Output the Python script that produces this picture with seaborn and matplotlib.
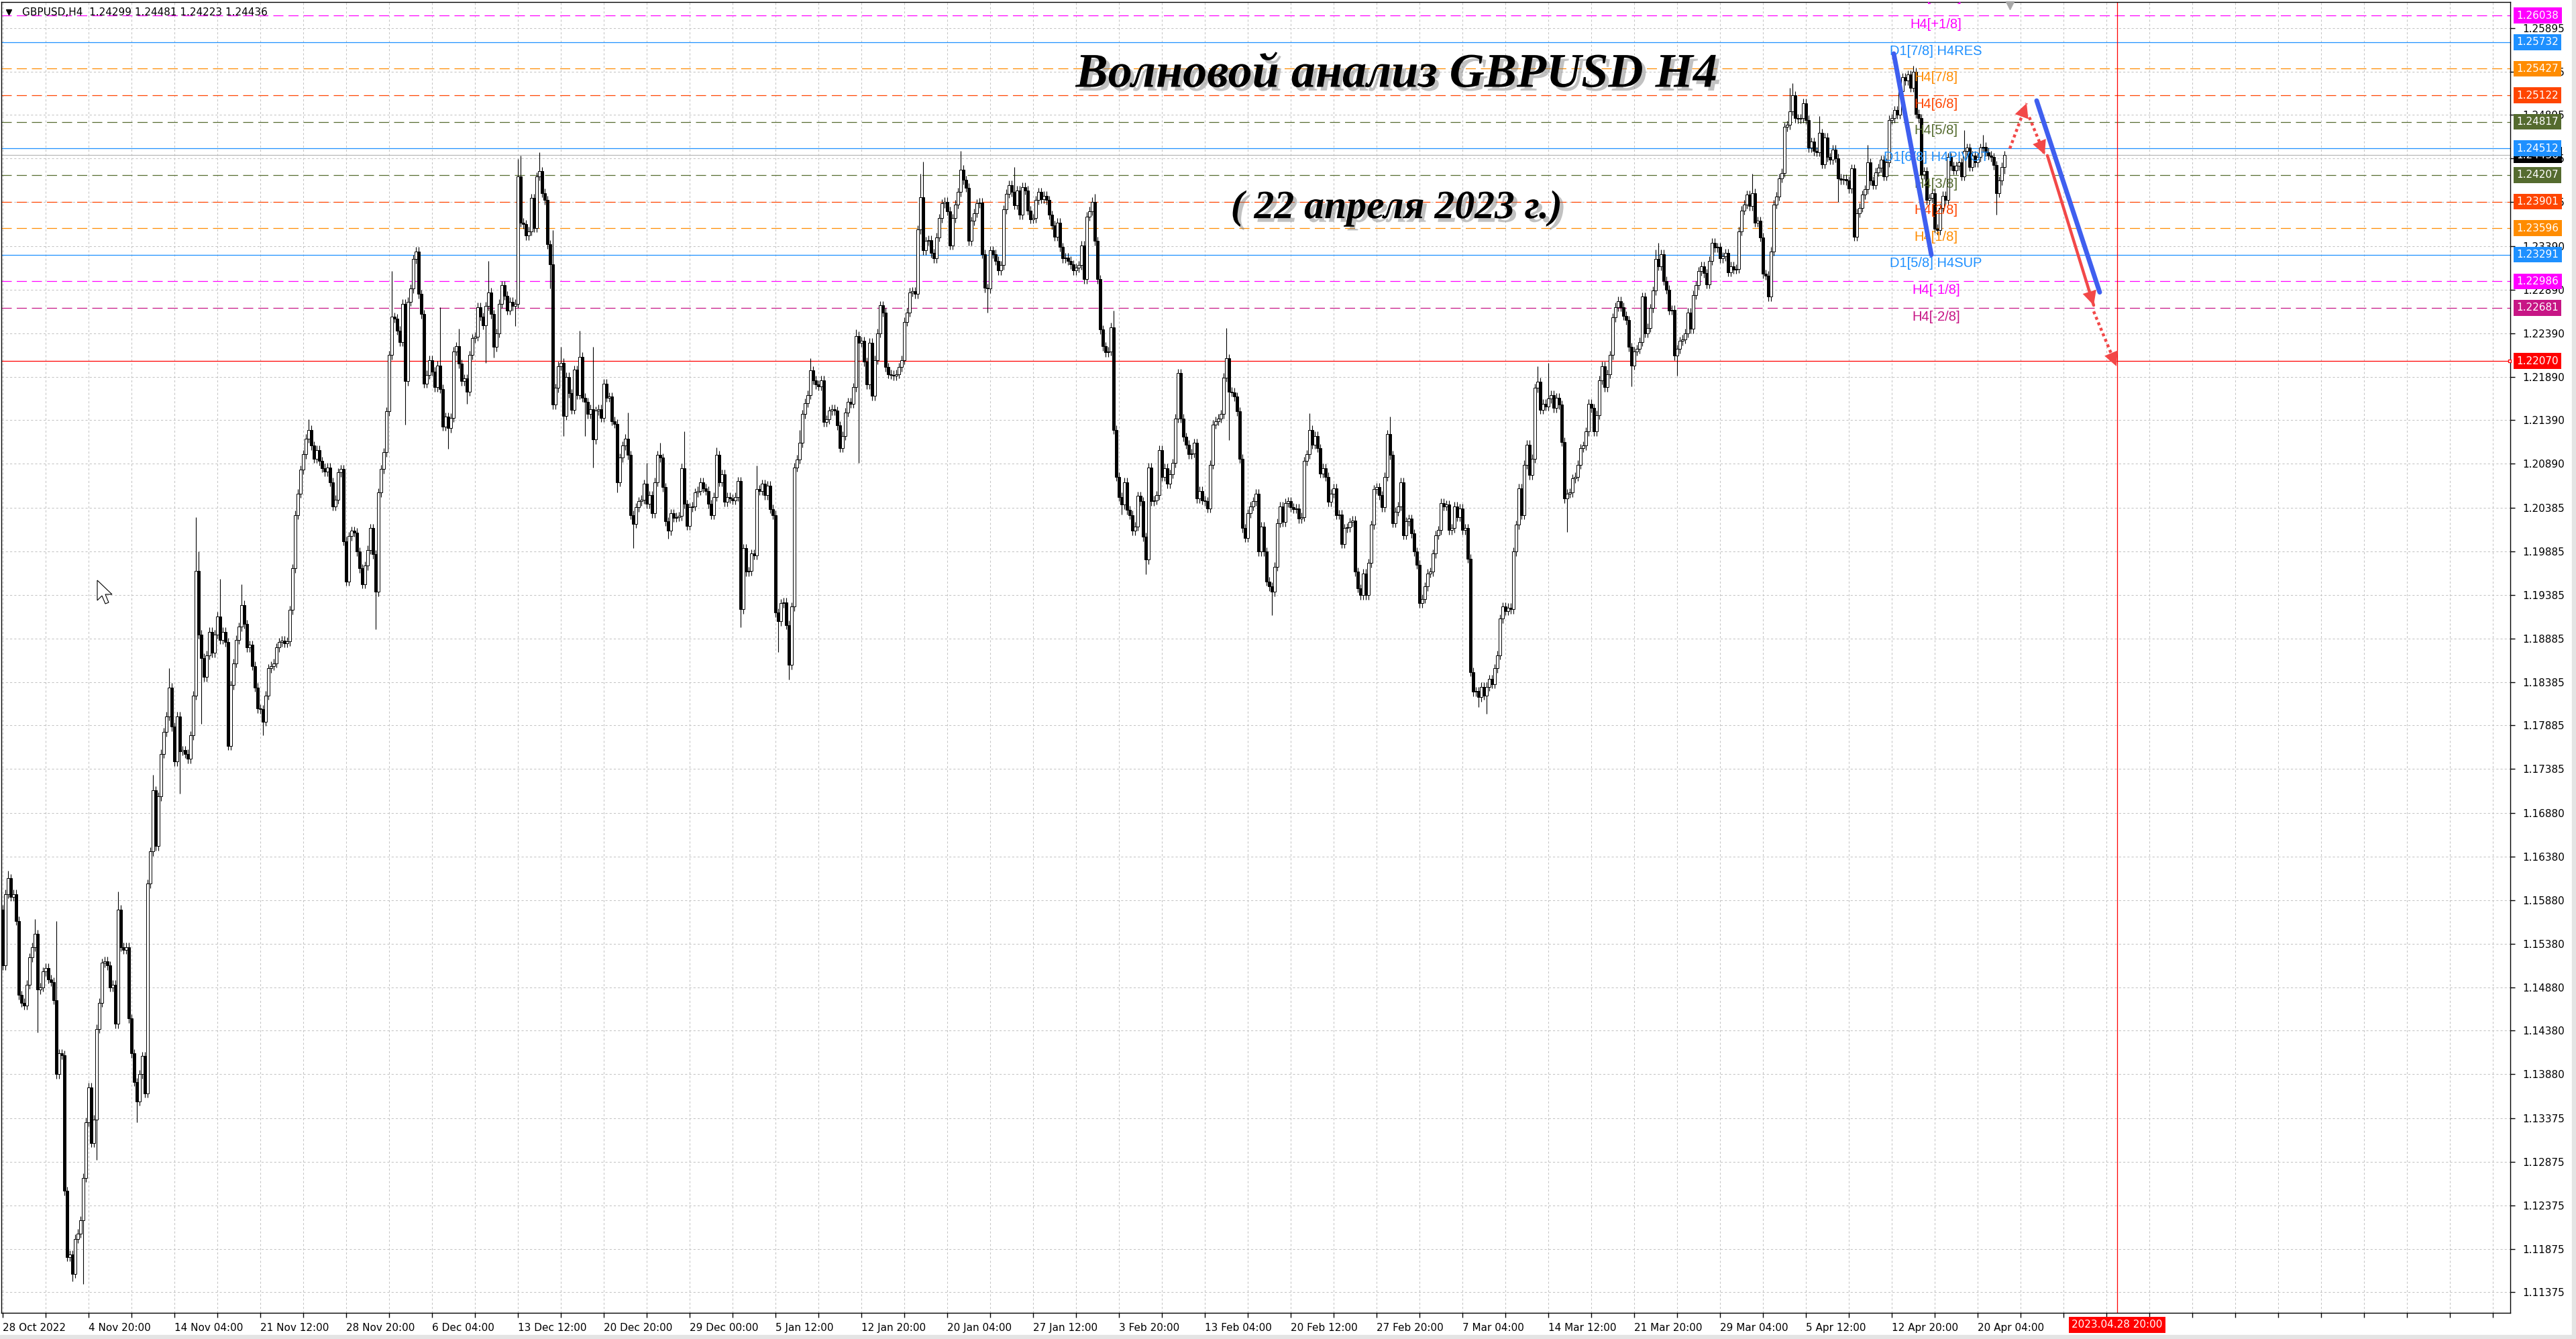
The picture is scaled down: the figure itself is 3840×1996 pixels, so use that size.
import numpy as np
import pandas as pd
import matplotlib
matplotlib.use("Agg")
import matplotlib.pyplot as plt
from matplotlib import patheffects as pe
from matplotlib.patches import Rectangle, Polygon
import seaborn as sns

# H4 closes, bar 0 = 28 Oct 2022 16:00, last = 21 Apr 2023 20:00
closes = [
    1.1513, 1.1595, 1.1613, 1.1592, 1.1595, 1.1564, 1.1479, 1.1470, 1.1467, 1.1491,
    1.1522, 1.1534, 1.1549, 1.1485, 1.1488, 1.1506, 1.1510, 1.1497, 1.1494, 1.1473,
    1.1388, 1.1412, 1.1410, 1.1254, 1.1178, 1.1181, 1.1159, 1.1199, 1.1205, 1.1220,
    1.1269, 1.1333, 1.1373, 1.1309, 1.1336, 1.1440, 1.1470, 1.1516, 1.1518, 1.1513,
    1.1488, 1.1491, 1.1446, 1.1577, 1.1534, 1.1531, 1.1534, 1.1452, 1.1412, 1.1379,
    1.1357, 1.1388, 1.1409, 1.1366, 1.1607, 1.1644, 1.1714, 1.1650, 1.1707, 1.1756,
    1.1781, 1.1799, 1.1832, 1.1787, 1.1747, 1.1799, 1.1759, 1.1760, 1.1756, 1.1750,
    1.1777, 1.1823, 1.1966, 1.1893, 1.1866, 1.1844, 1.1869, 1.1896, 1.1872, 1.1893,
    1.1914, 1.1887, 1.1896, 1.1884, 1.1765, 1.1835, 1.1860, 1.1887, 1.1902, 1.1927,
    1.1905, 1.1878, 1.1881, 1.1857, 1.1832, 1.1808, 1.1807, 1.1793, 1.1823, 1.1854,
    1.1857, 1.1860, 1.1878, 1.1884, 1.1886, 1.1883, 1.1885, 1.1921, 1.1969, 1.2030,
    1.2055, 1.2082, 1.2100, 1.2118, 1.2128, 1.2110, 1.2095, 1.2105, 1.2092, 1.2084,
    1.2080, 1.2085, 1.2068, 1.2040, 1.2048, 1.2079, 1.2083, 1.2000, 1.1954, 1.2006,
    1.2012, 1.2010, 1.1988, 1.1969, 1.1951, 1.1972, 1.1990, 1.2015, 1.1985, 1.1942,
    1.2056, 1.2083, 1.2102, 1.2149, 1.2214, 1.2258, 1.2256, 1.2242, 1.2229, 1.2273,
    1.2184, 1.2275, 1.2290, 1.2324, 1.2333, 1.2284, 1.2261, 1.2181, 1.2191, 1.2208,
    1.2195, 1.2177, 1.2202, 1.2175, 1.2132, 1.2143, 1.2130, 1.2142, 1.2218, 1.2224,
    1.2204, 1.2184, 1.2187, 1.2172, 1.2214, 1.2233, 1.2235, 1.2269, 1.2258, 1.2248,
    1.2270, 1.2286, 1.2261, 1.2223, 1.2239, 1.2273, 1.2294, 1.2282, 1.2265, 1.2275,
    1.2270, 1.2273, 1.2419, 1.2366, 1.2364, 1.2351, 1.2356, 1.2394, 1.2360, 1.2419,
    1.2425, 1.2400, 1.2392, 1.2341, 1.2318, 1.2157, 1.2176, 1.2201, 1.2205, 1.2144,
    1.2189, 1.2170, 1.2151, 1.2197, 1.2168, 1.2212, 1.2165, 1.2160, 1.2146, 1.2152,
    1.2117, 1.2150, 1.2152, 1.2142, 1.2181, 1.2165, 1.2166, 1.2138, 1.2135, 1.2068,
    1.2096, 1.2110, 1.2118, 1.2099, 1.2030, 1.2020, 1.2039, 1.2046, 1.2048, 1.2066,
    1.2043, 1.2053, 1.2032, 1.2068, 1.2099, 1.2096, 1.2062, 1.2023, 1.2012, 1.2032,
    1.2027, 1.2028, 1.2029, 1.2084, 1.2043, 1.2018, 1.2039, 1.2040, 1.2056, 1.2058,
    1.2068, 1.2061, 1.2058, 1.2043, 1.2030, 1.2051, 1.2099, 1.2068, 1.2077, 1.2045,
    1.2051, 1.2049, 1.2047, 1.2051, 1.2069, 1.1922, 1.1992, 1.1965, 1.1966, 1.1986,
    1.1984, 1.2060, 1.2058, 1.2066, 1.2053, 1.2064, 1.2037, 1.2030, 1.1918, 1.1908,
    1.1929, 1.1930, 1.1904, 1.1858, 1.1925, 1.2085, 1.2094, 1.2113, 1.2146, 1.2159,
    1.2168, 1.2196, 1.2185, 1.2180, 1.2178, 1.2185, 1.2137, 1.2140, 1.2150, 1.2152,
    1.2150, 1.2133, 1.2107, 1.2121, 1.2148, 1.2160, 1.2158, 1.2177, 1.2236, 1.2228,
    1.2230, 1.2206, 1.2180, 1.2228, 1.2167, 1.2208, 1.2239, 1.2271, 1.2263, 1.2200,
    1.2192, 1.2191, 1.2190, 1.2192, 1.2200, 1.2208, 1.2252, 1.2263, 1.2286, 1.2287,
    1.2284, 1.2358, 1.2395, 1.2334, 1.2345, 1.2346, 1.2331, 1.2325, 1.2349, 1.2371,
    1.2388, 1.2390, 1.2379, 1.2340, 1.2371, 1.2387, 1.2401, 1.2427, 1.2415, 1.2406,
    1.2345, 1.2368, 1.2377, 1.2388, 1.2389, 1.2330, 1.2291, 1.2290, 1.2334, 1.2330,
    1.2322, 1.2311, 1.2317, 1.2381, 1.2399, 1.2409, 1.2401, 1.2386, 1.2403, 1.2375,
    1.2407, 1.2403, 1.2380, 1.2370, 1.2371, 1.2392, 1.2401, 1.2393, 1.2397, 1.2392,
    1.2375, 1.2363, 1.2350, 1.2366, 1.2338, 1.2325, 1.2326, 1.2322, 1.2318, 1.2311,
    1.2314, 1.2317, 1.2340, 1.2301, 1.2373, 1.2379, 1.2390, 1.2345, 1.2301, 1.2243,
    1.2224, 1.2217, 1.2218, 1.2246, 1.2128, 1.2074, 1.2051, 1.2042, 1.2068, 1.2036,
    1.2030, 1.2012, 1.2017, 1.2052, 1.2046, 1.2005, 1.1979, 1.2085, 1.2046, 1.2047,
    1.2053, 1.2105, 1.2074, 1.2084, 1.2066, 1.2077, 1.2090, 1.2141, 1.2193, 1.2141,
    1.2120, 1.2111, 1.2100, 1.2101, 1.2113, 1.2049, 1.2058, 1.2047, 1.2046, 1.2038,
    1.2088, 1.2134, 1.2138, 1.2141, 1.2146, 1.2188, 1.2210, 1.2172, 1.2171, 1.2166,
    1.2149, 1.2095, 1.2015, 1.2004, 1.2032, 1.2040, 1.2046, 1.2055, 1.1988, 1.2017,
    1.1988, 1.1954, 1.1948, 1.1942, 1.1971, 1.2021, 1.2040, 1.2022, 1.2044, 1.2046,
    1.2039, 1.2037, 1.2038, 1.2026, 1.2028, 1.2092, 1.2100, 1.2128, 1.2111, 1.2121,
    1.2107, 1.2078, 1.2084, 1.2074, 1.2045, 1.2055, 1.2061, 1.2030, 1.2031, 1.1997,
    1.2015, 1.2016, 1.2022, 1.2024, 1.1965, 1.1946, 1.1938, 1.1963, 1.1938, 1.1975,
    1.2019, 1.2060, 1.2062, 1.2053, 1.2039, 1.2074, 1.2123, 1.2099, 1.2021, 1.2034,
    1.2040, 1.2068, 1.2007, 1.2023, 1.2026, 1.2009, 1.1988, 1.1973, 1.1929, 1.1934,
    1.1948, 1.1963, 1.1965, 1.1986, 1.2007, 1.2013, 1.2044, 1.2040, 1.2042, 1.2013,
    1.2015, 1.2040, 1.2028, 1.2038, 1.2013, 1.2015, 1.1980, 1.1850, 1.1827, 1.1828,
    1.1821, 1.1833, 1.1823, 1.1833, 1.1842, 1.1836, 1.1854, 1.1869, 1.1911, 1.1925,
    1.1920, 1.1924, 1.1922, 1.1988, 1.2019, 1.2061, 1.2030, 1.2088, 1.2111, 1.2076,
    1.2095, 1.2176, 1.2183, 1.2151, 1.2158, 1.2155, 1.2164, 1.2168, 1.2153, 1.2165,
    1.2157, 1.2114, 1.2049, 1.2055, 1.2056, 1.2072, 1.2074, 1.2088, 1.2107, 1.2110,
    1.2126, 1.2158, 1.2153, 1.2126, 1.2145, 1.2185, 1.2201, 1.2177, 1.2192, 1.2214,
    1.2257, 1.2269, 1.2276, 1.2269, 1.2259, 1.2254, 1.2223, 1.2202, 1.2218, 1.2221,
    1.2229, 1.2281, 1.2239, 1.2245, 1.2268, 1.2288, 1.2324, 1.2316, 1.2330, 1.2299,
    1.2289, 1.2265, 1.2266, 1.2213, 1.2221, 1.2230, 1.2232, 1.2239, 1.2263, 1.2244,
    1.2283, 1.2294, 1.2310, 1.2316, 1.2308, 1.2295, 1.2322, 1.2343, 1.2337, 1.2338,
    1.2325, 1.2327, 1.2331, 1.2309, 1.2316, 1.2312, 1.2313, 1.2356, 1.2380, 1.2387,
    1.2398, 1.2385, 1.2400, 1.2366, 1.2368, 1.2349, 1.2307, 1.2305, 1.2281, 1.2333,
    1.2387, 1.2396, 1.2417, 1.2423, 1.2476, 1.2478, 1.2494, 1.2512, 1.2486, 1.2485,
    1.2486, 1.2503, 1.2484, 1.2452, 1.2459, 1.2448, 1.2447, 1.2469, 1.2433, 1.2464,
    1.2441, 1.2438, 1.2450, 1.2440, 1.2417, 1.2415, 1.2416, 1.2414, 1.2405, 1.2428,
    1.2350, 1.2377, 1.2383, 1.2398, 1.2404, 1.2435, 1.2414, 1.2409, 1.2424, 1.2429,
    1.2438, 1.2419, 1.2435, 1.2484, 1.2486, 1.2495, 1.2490, 1.2517, 1.2533, 1.2529,
    1.2536, 1.2521, 1.2539, 1.2491, 1.2486, 1.2421, 1.2425, 1.2392, 1.2394, 1.2400,
    1.2359, 1.2357, 1.2383, 1.2397, 1.2392, 1.2441, 1.2431, 1.2426, 1.2431, 1.2435,
    1.2419, 1.2448, 1.2452, 1.2430, 1.2443, 1.2435, 1.2441, 1.2452, 1.2453, 1.2447,
    1.2443, 1.2441, 1.2432, 1.2400, 1.2414, 1.24299, 1.24436,
]
first_open = 1.1577

# long wicks that stand out on the picture
spike_high_bars = [2, 12, 20, 43, 56, 62, 72, 73, 81, 89,
                   114, 145, 163, 170, 181, 192, 193, 200, 205, 208,
                   215, 220, 233, 240, 245, 254, 266, 281, 297, 301,
                   318, 342, 343, 357, 377, 407, 414, 456, 487, 517,
                   572, 576, 616, 617, 652, 665, 666, 667, 677, 695,
                   712, 731, 738, 746]
spike_high_vals = [1.1622, 1.1566, 1.1564, 1.1598, 1.1732, 1.1854, 1.2028, 1.1988, 1.1957, 1.1951,
                   1.2140, 1.2310, 1.2269, 1.2244, 1.2322, 1.2439, 1.2443, 1.2447, 1.2357, 1.2223,
                   1.2242, 1.2223, 1.2148, 1.2090, 1.2113, 1.2126, 1.2108, 1.2087, 1.2128, 1.2210,
                   1.2243, 1.2422, 1.2436, 1.2448, 1.2430, 1.2399, 1.2265, 1.2245, 1.2147, 1.2143,
                   1.2201, 1.2205, 1.2335, 1.2343, 1.2422, 1.2483, 1.2521, 1.2526, 1.2488, 1.2455,
                   1.2546, 1.2472, 1.2467, 1.24481]
spike_low_bars = [13, 26, 30, 35, 50, 66, 74, 97, 139, 150,
                  166, 173, 180, 183, 191, 204, 209, 217, 220, 229,
                  235, 248, 256, 275, 289, 293, 312, 319, 367, 417,
                  426, 457, 473, 550, 553, 583, 607, 624, 684, 690,
                  743, 746]
spike_low_vals = [1.1436, 1.1150, 1.1147, 1.1290, 1.1333, 1.1710, 1.1790, 1.1777, 1.1899, 1.2134,
                  1.2106, 1.2158, 1.2205, 1.2211, 1.2247, 1.2290, 1.2121, 1.2121, 1.2085, 1.2056,
                  1.1992, 1.2003, 1.2013, 1.1901, 1.1873, 1.1841, 1.2103, 1.2090, 1.2263, 1.2031,
                  1.1962, 1.2116, 1.1915, 1.1810, 1.1802, 1.2011, 1.2178, 1.2190, 1.2390, 1.2345,
                  1.2375, 1.24223]

# Murrey levels
level_prices = [1.26343, 1.26038, 1.25732, 1.25427, 1.25122, 1.24817, 1.24512,
                1.24207, 1.23901, 1.23596, 1.23291, 1.22986, 1.22681, 1.22070]
level_names = ['H4[+2/8]', 'H4[+1/8]', 'D1[7/8] H4RES', 'H4[7/8]', 'H4[6/8]', 'H4[5/8]',
               'D1[6/8] H4PIVOT', 'H4[3/8]', 'H4[2/8]', 'H4[1/8]', 'D1[5/8] H4SUP',
               'H4[-1/8]', 'H4[-2/8]', '']
level_colors = ['#FF00FF', '#FF00FF', '#1E90FF', '#FF8C00', '#FF4500', '#556B2F', '#1E90FF',
                '#556B2F', '#FF4500', '#FF8C00', '#1E90FF', '#FF00FF', '#C71585', '#FF0000']
level_dashed = [True, True, False, True, True, True, False, True, True, True, False, True, True, False]
bid_price = 1.24436

price_ticks = [1.25895, 1.25395, 1.24895, 1.24395, 1.23895, 1.23390, 1.22890, 1.22390,
               1.21890, 1.21390, 1.20890, 1.20385, 1.19885, 1.19385, 1.18885, 1.18385,
               1.17885, 1.17385, 1.16880, 1.16380, 1.15880, 1.15380, 1.14880, 1.14380,
               1.13880, 1.13375, 1.12875, 1.12375, 1.11875, 1.11375]
time_labels = ['28 Oct 2022', '4 Nov 20:00', '14 Nov 04:00', '21 Nov 12:00', '28 Nov 20:00',
               '6 Dec 04:00', '13 Dec 12:00', '20 Dec 20:00', '29 Dec 00:00', '5 Jan 12:00',
               '12 Jan 20:00', '20 Jan 04:00', '27 Jan 12:00', '3 Feb 20:00', '13 Feb 04:00',
               '20 Feb 12:00', '27 Feb 20:00', '7 Mar 04:00', '14 Mar 12:00', '21 Mar 20:00',
               '29 Mar 04:00', '5 Apr 12:00', '12 Apr 20:00', '20 Apr 04:00']
future_bar = 788
future_label = '2023.04.28 20:00'

# hand drawn wave marks (bar, price)
wave_lines = [[(704.75, 1.2560), (718.75, 1.2329)], [(758.0, 1.2506), (781.5, 1.2286)]]
red_dotted = [[(748.0, 1.2451), (754.25, 1.2503)], [(755.25, 1.2487), (761.0, 1.2444)],
              [(779.25, 1.2264), (787.75, 1.2201)]]
red_solid = [[(762.0, 1.2443), (779.25, 1.2271)]]

sns.set_theme(style="white")
plt.rcParams['font.family'] = ['DejaVu Sans']

W, H = 3840, 1996
fig = plt.figure(figsize=(W / 100, H / 100), dpi=100)
fig.patch.set_facecolor('white')
ax = fig.add_axes([2 / W, 1 - 1957 / H, 3740 / W, 1954 / H])
ax.set_facecolor('white')
ymin, ymax = 1.11140, 1.26193
ax.set_xlim(-0.5, 934.5)
ax.set_ylim(ymin, ymax)

# candles
df = pd.DataFrame({'close': closes})
df['bar'] = np.arange(len(df))
df['open'] = df['close'].shift(1).fillna(first_open)
pad = 0.0005
df['high'] = df[['open', 'close']].max(axis=1) + pad
df['low'] = df[['open', 'close']].min(axis=1) - pad
for b, v in zip(spike_high_bars, spike_high_vals):
    df.loc[b, 'high'] = max(df.loc[b, 'high'], v)
for b, v in zip(spike_low_bars, spike_low_vals):
    df.loc[b, 'low'] = min(df.loc[b, 'low'], v)
df['bottom'] = df[['open', 'close']].min(axis=1)
df['height'] = (df['close'] - df['open']).abs().clip(lower=0.00004)
bull = df['close'] >= df['open']

ax.vlines(df['bar'], df['low'], df['high'], color='black', lw=0.8, zorder=3)
ax.bar(df.loc[bull, 'bar'], df.loc[bull, 'height'], bottom=df.loc[bull, 'bottom'], width=0.78,
       color='white', edgecolor='black', linewidth=0.7, zorder=4)
ax.bar(df.loc[~bull, 'bar'], df.loc[~bull, 'height'], bottom=df.loc[~bull, 'bottom'], width=0.78,
       color='black', edgecolor='black', linewidth=0.7, zorder=4)

# grid and axes
ax.set_axisbelow(True)
ax.grid(True, color='#C4C4C4', linestyle=(0, (3, 3)), linewidth=0.75)
for s in ax.spines.values():
    s.set_color('black')
    s.set_linewidth(1)
ax.yaxis.tick_right()
ax.set_yticks(price_ticks)
ax.set_yticklabels([f'{p:.5f}' for p in price_ticks])
ax.tick_params(axis='y', right=True, left=False, direction='out', length=5, width=1,
               color='black', pad=8, labelsize=11, labelcolor='black')
xt = np.arange(0, 935, 16)
ax.set_xticks(xt)
ax.set_xticklabels([time_labels[i // 32] if i % 32 == 0 and i // 32 < len(time_labels) else ''
                    for i in xt])
ax.tick_params(axis='x', bottom=True, direction='out', length=5, width=1, color='black',
               pad=6, labelsize=11, labelcolor='black')
for t in ax.get_xticklabels():
    t.set_ha('left')

# levels
for p, c, d in zip(level_prices, level_colors, level_dashed):
    ax.axhline(p, color=c, lw=0.9, linestyle=(0, (12, 6)) if d else '-', zorder=2)
ax.axhline(bid_price, color='#B8B8B8', lw=0.9, zorder=2)
ax.axvline(future_bar, color='red', lw=0.9, zorder=2)
ax.plot([934.2], [level_prices[-1]], marker='s', ms=3.5, mfc='white', mec='red', mew=1,
        clip_on=False, zorder=6)

for p, name, c in zip(level_prices, level_names, level_colors):
    if name:
        ax.text(720.5, p - 0.00102, name, ha='center', va='center', color=c, fontsize=14.5,
                family='Liberation Sans', zorder=6, clip_on=True)

ytr = ax.get_yaxis_transform()


def price_box(p, color, z):
    ax.text(1.0025, p, f'{p:.5f}', transform=ytr, ha='left', va='center', color='white',
            fontsize=11, zorder=z, clip_on=False,
            bbox=dict(boxstyle='square,pad=0.28', fc=color, ec='none'))


price_box(bid_price, 'black', 9)
for p, c in zip(level_prices, level_colors):
    if ymin < p < ymax:
        price_box(p, c, 10)

ax.text(future_bar, -0.0092, future_label, transform=ax.get_xaxis_transform(), ha='center',
        va='center', color='white', fontsize=11, zorder=10, clip_on=False,
        bbox=dict(boxstyle='square,pad=0.3', fc='#FF0000', ec='none'))

# header
ax.plot([0.0029], [0.9923], marker='v', ms=6, color='black', transform=ax.transAxes,
        clip_on=False, zorder=12)
ax.text(0.0083, 0.9923, 'GBPUSD,H4  1.24299 1.24481 1.24223 1.24436', transform=ax.transAxes,
        ha='left', va='center', fontsize=11, color='black', zorder=12)
ax.plot([748], [ymax - 0.0004], marker='v', ms=9, color='#A8A8A8', clip_on=False, zorder=12)

# title
shadow = [pe.withSimplePatchShadow(offset=(4, -4), shadow_rgbFace='#777777', alpha=0.45)]
ax.text(519.5, 1.25354, 'Волновой анализ GBPUSD H4', ha='center', va='center', fontsize=52,
        family='Liberation Serif', style='italic', weight='bold', color='black', zorder=8,
        path_effects=shadow)
ax.text(519.5, 1.23820, '( 22 апреля 2023 г.)', ha='center', va='center', fontsize=43,
        family='Liberation Serif', style='italic', weight='bold', color='black', zorder=8,
        path_effects=shadow)

# wave marks
blue = '#3F5FEF'
red = '#F24848'
for seg in wave_lines:
    sns.lineplot(x=[seg[0][0], seg[1][0]], y=[seg[0][1], seg[1][1]], ax=ax, color=blue, lw=5,
                 sort=False, legend=False, zorder=9, solid_capstyle='round')


def arrow_head(start, end):
    s = ax.transData.transform(start)
    e = ax.transData.transform(end)
    u = (e - s) / np.hypot(*(e - s))
    back = ax.transData.inverted().transform(e - u * 20)
    ax.annotate('', xy=end, xytext=back, zorder=9,
                arrowprops=dict(arrowstyle='-|>', mutation_scale=38, lw=0, fc=red, ec=red,
                                shrinkA=0, shrinkB=0))


for seg in red_dotted:
    ax.plot([seg[0][0], seg[1][0]], [seg[0][1], seg[1][1]], color=red, lw=3.2,
            linestyle=(0, (1, 1)), dash_capstyle='butt', zorder=9)
    arrow_head(seg[0], seg[1])
for seg in red_solid:
    ax.plot([seg[0][0], seg[1][0]], [seg[0][1], seg[1][1]], color=red, lw=3.2, zorder=9)
    arrow_head(seg[0], seg[1])

# mouse pointer left on the screenshot (pixel outline, tip at 145,865 from top-left)
cursor_px = [(0, 0), (0, 30), (7, 23), (12, 35), (17, 33), (12, 21), (22, 21)]
fig.patches.append(Polygon([(145 + dx, H - 865 - dy) for dx, dy in cursor_px], closed=True,
                           transform=None, fc='white', ec='black', lw=0.8, zorder=20))

# window frame
fig.patches.append(Rectangle((3834 / W, 0), 6 / W, 1, transform=fig.transFigure,
                             color='#E4E4E4', zorder=-1))
fig.patches.append(Rectangle((0, 0), 1, 6 / H, transform=fig.transFigure,
                             color='#E4E4E4', zorder=-1))

fig.savefig('out.png', dpi=100)
